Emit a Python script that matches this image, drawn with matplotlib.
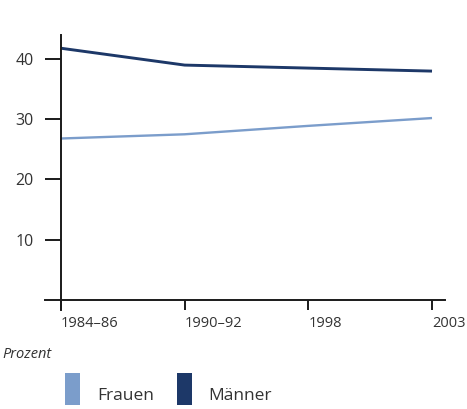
import numpy as np
import matplotlib.pyplot as plt
from matplotlib.patches import Rectangle

# data
periods = ["1984–86", "1990–92", "1998", "2003"]
frauen = [26.8, 27.5, 28.9, 30.2]
maenner = [41.8, 39.0, 38.5, 38.0]

C_FRAUEN = "#7b9dcb"
C_MAENNER = "#1d3868"
AXIS_COLOR = "#1a1a1a"
TEXT_COLOR = "#333333"

W, H = 467, 409
plt.rcParams["font.family"] = ["Open Sans", "DejaVu Sans"]

fig = plt.figure(figsize=(W / 100, H / 100), dpi=100)
ax = fig.add_axes([45 / W, (H - 310) / H, 400 / W, 275 / H])

x = np.arange(len(periods))
ax.plot(x, frauen, color=C_FRAUEN, lw=1.7, solid_capstyle="butt")
ax.plot(x, maenner, color=C_MAENNER, lw=2.1, solid_capstyle="butt")

ax.set_xlim(-0.129, 3.105)
ax.set_ylim(-1.7, 44)

for s in ["top", "right"]:
    ax.spines[s].set_visible(False)
ax.spines["left"].set_position(("data", 0))
ax.spines["bottom"].set_position(("data", 0))
for s in ["left", "bottom"]:
    ax.spines[s].set_color(AXIS_COLOR)
    ax.spines[s].set_linewidth(1.4)

ax.set_yticks([10, 20, 30, 40])
ax.set_xticks(x)
ax.set_xticklabels(periods, ha="left")
ax.tick_params(axis="y", length=11.5, width=1.4, color=AXIS_COLOR, pad=8,
               labelsize=11.5, labelcolor=TEXT_COLOR)
ax.tick_params(axis="x", length=7, width=1.4, color=AXIS_COLOR, pad=5,
               labelsize=10.5, labelcolor=TEXT_COLOR)

# legend block below the axes
fig.text(2 / W, 1 - 355 / H, "Prozent", style="italic", fontsize=10.5,
         color=TEXT_COLOR, va="center")
fig.add_artist(Rectangle((65 / W, 1 - 405 / H), 15 / W, 32 / H,
                         transform=fig.transFigure, color=C_FRAUEN, lw=0))
fig.text(97 / W, 1 - 396 / H, "Frauen", fontsize=12.5, color=TEXT_COLOR, va="center")
fig.add_artist(Rectangle((177 / W, 1 - 405 / H), 15 / W, 32 / H,
                         transform=fig.transFigure, color=C_MAENNER, lw=0))
fig.text(208 / W, 1 - 396 / H, "Männer", fontsize=12.5, color=TEXT_COLOR, va="center")

fig.savefig("out.png", dpi=100)
